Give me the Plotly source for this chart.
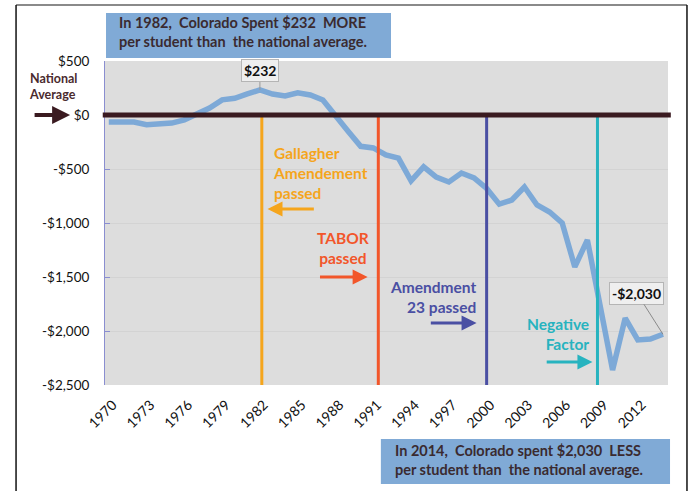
import plotly.graph_objects as go

years = list(range(1970, 2015))
diff = [-65, -65, -65, -90, -85, -75, -45, 10, 65, 140,
        155, 195, 232, 194, 176, 206, 185, 139, -15, -150,
        -290, -305, -370, -400, -610, -480, -575, -620, -537, -583,
        -680, -825, -787, -667, -833, -898, -1000, -1407, -1157, -1760,
        -2361, -1880, -2083, -2074, -2030]

y_ticks = [500, 0, -500, -1000, -1500, -2000, -2500]
y_tick_text = ["$500", "$0", "-$500", "-$1,000", "-$1,500", "-$2,000", "-$2,500"]
x_ticks = list(range(1970, 2013, 3))

event_names = ["Gallagher", "TABOR", "Amendment 23", "Negative Factor"]
event_pos = [1982.15, 1991.4, 2000.0, 2008.8]
event_colors = ["#F5A51C", "#F2562A", "#4A4FA3", "#27B3BF"]

FONT = "Lato"
DARK = "#3A1A20"

fig = go.Figure()
fig.add_trace(go.Scatter(x=years, y=diff, mode="lines",
                         line=dict(color="#7DA9D7", width=5.5),
                         hoverinfo="x+y", showlegend=False))

shapes = []
# frame
shapes.append(dict(type="line", xref="paper", yref="paper", x0=-0.158, x1=1.0337, y0=1.1728, y1=1.1728,
                   line=dict(color="#8a8a8a", width=2), layer="above"))
shapes.append(dict(type="line", xref="paper", yref="paper", x0=-0.158, x1=-0.158, y0=1.1728, y1=-0.33,
                   line=dict(color="#111111", width=1.5), layer="above"))
shapes.append(dict(type="line", xref="paper", yref="paper", x0=1.0337, x1=1.0337, y0=1.1728, y1=-0.33,
                   line=dict(color="#111111", width=1.5), layer="above"))
# event lines
for pos, col in zip(event_pos, event_colors):
    shapes.append(dict(type="line", xref="x", yref="y", x0=pos, x1=pos, y0=0, y1=-2500,
                       line=dict(color=col, width=3), layer="above"))
# national average zero line
shapes.append(dict(type="line", xref="paper", yref="y", x0=-0.004, x1=1.005, y0=0, y1=0,
                   line=dict(color=DARK, width=5), layer="above"))
# text boxes
shapes.append(dict(type="rect", xref="paper", yref="paper", x0=0.0018, x1=0.508, y0=1.009, y1=1.148,
                   fillcolor="#80AAD6", line=dict(width=0), layer="above"))
shapes.append(dict(type="rect", xref="paper", yref="paper", x0=0.490, x1=1.0036, y0=-0.1667, y1=-0.3056,
                   fillcolor="#80AAD6", line=dict(width=0), layer="above"))

ann = []
ann.append(dict(xref="paper", yref="paper", x=0.0213, y=1.088, xanchor="left", yanchor="middle",
                text="<b>In 1982,  Colorado Spent $232  MORE<br>per student than  the national average.</b>",
                align="left", showarrow=False, font=dict(family=FONT, size=14.5, color="#3A2A30")))
ann.append(dict(xref="paper", yref="paper", x=0.5115, y=-0.2315, xanchor="left", yanchor="middle",
                text="<b>In 2014,  Colorado spent $2,030  LESS<br>per student than  the national average.</b>",
                align="left", showarrow=False, font=dict(family=FONT, size=14.5, color="#3A2A30")))
# National average label and arrow
ann.append(dict(xref="paper", yref="paper", x=-0.1385, y=(385 - 86) / 324, xanchor="left", yanchor="middle",
                text="<b>National<br>Average</b>", align="left", showarrow=False,
                font=dict(family=FONT, size=12.5, color="#4A2A2E")))
ann.append(dict(xref="paper", yref="y", x=-0.062, y=0, text="", showarrow=True,
                axref="pixel", ayref="pixel", ax=-37, ay=0,
                arrowhead=2, arrowsize=0.9, arrowwidth=4, arrowcolor=DARK))
# value callouts
ann.append(dict(x=years[12], y=diff[12], xref="x", yref="y", text="<b>$232</b>",
                showarrow=True, ax=0, ay=-19, arrowhead=0, arrowwidth=1, arrowcolor="#9a9a9a",
                bgcolor="#EFEFEF", bordercolor="#B5B5B5", borderwidth=1, borderpad=2,
                font=dict(family=FONT, size=14, color="#111111")))
ann.append(dict(x=years[-1], y=diff[-1], xref="x", yref="y", text="<b>-$2,030</b>",
                showarrow=True, ax=-26, ay=-41, arrowhead=0, arrowwidth=1, arrowcolor="#8a8a8a",
                bgcolor="#EFEFEF", bordercolor="#B5B5B5", borderwidth=1, borderpad=2,
                font=dict(family=FONT, size=14, color="#111111")))
# event labels
ann.append(dict(x=1982.85, y=-250, xref="x", yref="y", xanchor="left", yanchor="top", align="left",
                text="<b>Gallagher<br>Amendement<br>passed</b>", showarrow=False,
                font=dict(family=FONT, size=15.5, color=event_colors[0])))
ann.append(dict(x=1988.6, y=-1040, xref="x", yref="y", xanchor="center", yanchor="top", align="center",
                text="<b>TABOR<br>passed</b>", showarrow=False,
                font=dict(family=FONT, size=15.5, color=event_colors[1])))
ann.append(dict(x=1999.35, y=-1490, xref="x", yref="y", xanchor="right", yanchor="top", align="right",
                text="<b>Amendment<br>23 passed</b>", showarrow=False,
                font=dict(family=FONT, size=15.5, color=event_colors[2])))
ann.append(dict(x=2008.3, y=-1833, xref="x", yref="y", xanchor="right", yanchor="top", align="right",
                text="<b>Negative<br>Factor</b>", showarrow=False,
                font=dict(family=FONT, size=15.5, color=event_colors[3])))
# event arrows
arrows = [(1982.6, 1986.4, -870), (1990.55, 1986.65, -1500), (1999.2, 1995.45, -1926), (2008.4, 2004.65, -2287)]
for (hx, tx, yv), col in zip(arrows, event_colors):
    ann.append(dict(x=hx, y=yv, ax=tx, ay=yv, xref="x", yref="y", axref="x", ayref="y",
                    text="", showarrow=True, arrowhead=2, arrowsize=1, arrowwidth=3, arrowcolor=col))

fig.update_layout(
    width=692, height=491,
    margin=dict(l=105, r=24, t=61, b=106),
    paper_bgcolor="white", plot_bgcolor="#DDDDDD",
    font=dict(family=FONT, size=13, color="#111111"),
    shapes=shapes, annotations=ann, showlegend=False,
    xaxis=dict(range=[1969.7, 2014.4], tickmode="array", tickvals=x_ticks,
               ticktext=[str(v) for v in x_ticks], tickangle=-45, showgrid=False,
               zeroline=False, showline=False, ticks="", tickfont=dict(size=14, family=FONT),
               ticklabelstandoff=8, ticklabelshift=4),
    yaxis=dict(range=[-2500, 500], tickmode="array", tickvals=y_ticks, ticktext=y_tick_text,
               showgrid=True, gridcolor="#D3D3D3", gridwidth=1, zeroline=False,
               showline=True, linecolor="#8A8ED0", linewidth=1, ticks="inside", ticklen=5,
               tickcolor="#8A8ED0", tickfont=dict(size=13.5, family=FONT), ticklabelstandoff=12),
)

fig.write_html("out.html", config={"displayModeBar": False},
               post_script="document.body.style.margin='0';document.body.style.overflow='hidden';")
